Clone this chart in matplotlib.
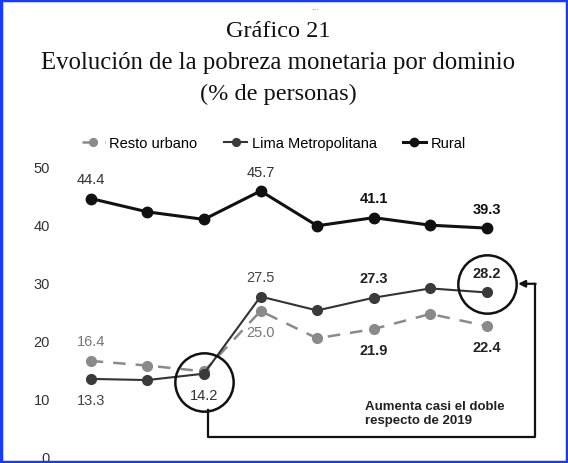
import matplotlib
matplotlib.use("Agg")
import matplotlib.pyplot as plt
from matplotlib.patches import Rectangle

# data (2017-2024, no x labels shown)
years = [2017, 2018, 2019, 2020, 2021, 2022, 2023, 2024]
resto_urbano = [16.4, 15.6, 14.6, 25.0, 20.3, 21.9, 24.5, 22.4]
lima_metro = [13.3, 13.1, 14.2, 27.5, 25.1, 27.3, 28.9, 28.2]
rural = [44.4, 42.1, 40.8, 45.7, 39.7, 41.1, 39.8, 39.3]

# which points carry a value label: (index, above?, bold?, colour)
resto_labels = [(0, True, False, "#777777"), (3, False, False, "#777777"),
                (5, False, True, "#222222"), (7, False, True, "#222222")]
lima_labels = [(0, False, False, "#444444"), (2, False, False, "#333333"),
               (3, True, False, "#444444"), (5, True, True, "#222222"),
               (7, True, True, "#222222")]
rural_labels = [(0, True, False, "#333333"), (3, True, False, "#333333"),
                (5, True, True, "#111111"), (7, True, True, "#111111")]

yticks = [0, 10, 20, 30, 40, 50]
note = "Aumenta casi el doble\nrespecto de 2019"

plt.rcParams["font.family"] = ["Liberation Sans", "DejaVu Sans"]

fig = plt.figure(figsize=(5.68, 4.64), dpi=100)
ax = fig.add_axes([0.10, 0.015, 0.85, 0.625])
x = list(range(len(years)))

l_resto, = ax.plot(x, resto_urbano, color="#8a8a8a", lw=1.8, ls=(0, (5, 4)),
                   marker="o", ms=7, mfc="#8a8a8a", mec="#8a8a8a", zorder=2)
l_lima, = ax.plot(x, lima_metro, color="#333333", lw=1.5,
                  marker="o", ms=7, mfc="#3a3a3a", mec="#3a3a3a", zorder=3)
l_rural, = ax.plot(x, rural, color="#111111", lw=2.2,
                   marker="o", ms=7.5, mfc="#111111", mec="#111111", zorder=3)


def put_labels(series, specs):
    for i, above, bold, col in specs:
        ax.annotate(f"{series[i]:.1f}", (x[i], series[i]),
                    xytext=(0, 14 if above else -15), textcoords="offset points",
                    ha="center", va="center", fontsize=10.5, color=col,
                    fontweight="bold" if bold else "normal")


put_labels(resto_urbano, resto_labels)
put_labels(lima_metro, lima_labels)
put_labels(rural, rural_labels)

# highlight circles and connector
ax.plot(x[2], lima_metro[2] - 1.4, marker="o", ms=42, mfc="none", mec="#111111",
        mew=1.8, zorder=4)
ax.plot(x[7], lima_metro[7] + 1.5, marker="o", ms=42, mfc="none", mec="#111111",
        mew=1.8, zorder=4)
ax.plot([x[2] + 0.07, x[2] + 0.07, 7.85, 7.85],
        [lima_metro[2] - 6.2, 3.2, 3.2, lima_metro[7] + 1.5],
        color="#111111", lw=1.6, zorder=4)
ax.annotate("", xy=(x[7] + 0.55, lima_metro[7] + 1.5),
            xytext=(7.86, lima_metro[7] + 1.5),
            arrowprops=dict(arrowstyle="-|>", color="#111111", lw=1.6,
                            mutation_scale=10, shrinkA=0, shrinkB=0))
ax.text(4.85, 9.6, note, ha="left", va="top", fontsize=9.5,
        fontweight="bold", color="#222222", linespacing=1.2)

ax.set_xlim(-0.6, 7.93)
ax.set_ylim(0, 50)
ax.set_yticks(yticks)
ax.set_xticks([])
ax.tick_params(axis="y", length=0, pad=5, labelsize=10.5, labelcolor="#333333")
for s in ax.spines.values():
    s.set_visible(False)

fig.legend([l_resto, l_lima, l_rural],
           ["Resto urbano", "Lima Metropolitana", "Rural"],
           loc="center", bbox_to_anchor=(0.482, 0.69), ncol=3, frameon=False,
           fontsize=10.5, handlelength=1.6, handletextpad=0.3, columnspacing=1.8,
           markerscale=0.8)

fig.text(0.555, 0.985, "...", ha="center", va="center", fontsize=7, color="#777777")
fig.text(0.49, 0.933, "Gráfico 21", ha="center", va="center", fontsize=17.5,
         family="Liberation Serif", color="#111111")
fig.text(0.49, 0.864, "Evolución de la pobreza monetaria por dominio",
         ha="center", va="center", fontsize=17.8, family="Liberation Serif",
         color="#111111")
fig.text(0.49, 0.797, "(% de personas)", ha="center", va="center", fontsize=17.5,
         family="Liberation Serif", color="#111111")

fig.patches.append(Rectangle((0.002, 0.002), 0.996, 0.996, transform=fig.transFigure,
                             fill=False, edgecolor="#1a3cf0", lw=2.5))

fig.savefig("out.png", dpi=100)
